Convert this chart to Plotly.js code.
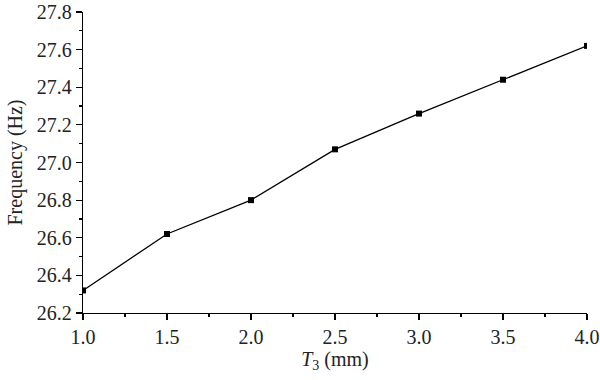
<!DOCTYPE html>
<html>
<head>
<meta charset="utf-8">
<script src="https://cdn.plot.ly/plotly-3.0.1.min.js"></script>
<style>html,body{margin:0;padding:0;background:#fff;}#chart{width:600px;height:380px;}</style>
</head>
<body>
<div id="chart"></div>
<script>
const thickness = [1.0, 1.5, 2.0, 2.5, 3.0, 3.5, 4.0];
const frequency = [26.32, 26.62, 26.80, 27.07, 27.26, 27.44, 27.62];
const xTitle = '<i>T</i><sub>3</sub> (mm)';
const yTitle = 'Frequency (Hz)';

const font = '"Liberation Serif", serif';
const trace = {
  x: thickness, y: frequency, type: 'scatter', mode: 'lines+markers',
  line: {color: '#000', width: 1.3},
  marker: {symbol: 'square', size: 6, color: '#000'}
};
const layout = {
  width: 600, height: 380,
  margin: {l: 83, r: 13, t: 12, b: 67},
  paper_bgcolor: '#fff', plot_bgcolor: '#fff',
  showlegend: false,
  font: {family: font, size: 20, color: '#222'},
  xaxis: {
    range: [1, 4], dtick: 0.5, tick0: 1, tickformat: '.1f',
    showgrid: false, zeroline: false, showline: true, linecolor: '#000', linewidth: 1.2,
    ticks: 'outside', ticklen: 6, tickwidth: 1.2, tickcolor: '#000',
    minor: {dtick: 0.25, ticks: 'outside', ticklen: 3, tickcolor: '#000', showgrid: false},
    tickfont: {family: font, size: 20, color: '#222'},
    title: {text: xTitle, font: {family: font, size: 20, color: '#222'}, standoff: 2}
  },
  yaxis: {
    range: [26.2, 27.8], dtick: 0.2, tick0: 26.2, tickformat: '.1f',
    showgrid: false, zeroline: false, showline: true, linecolor: '#000', linewidth: 1.2,
    ticks: 'outside', ticklen: 6, tickwidth: 1.2, tickcolor: '#000',
    minor: {dtick: 0.1, ticks: 'outside', ticklen: 3, tickcolor: '#000', showgrid: false},
    tickfont: {family: font, size: 20, color: '#222'},
    title: {text: yTitle, font: {family: font, size: 20, color: '#222'}, standoff: 8}
  }
};
Plotly.newPlot('chart', [trace], layout, {displayModeBar: false, staticPlot: true});
</script>
</body>
</html>
